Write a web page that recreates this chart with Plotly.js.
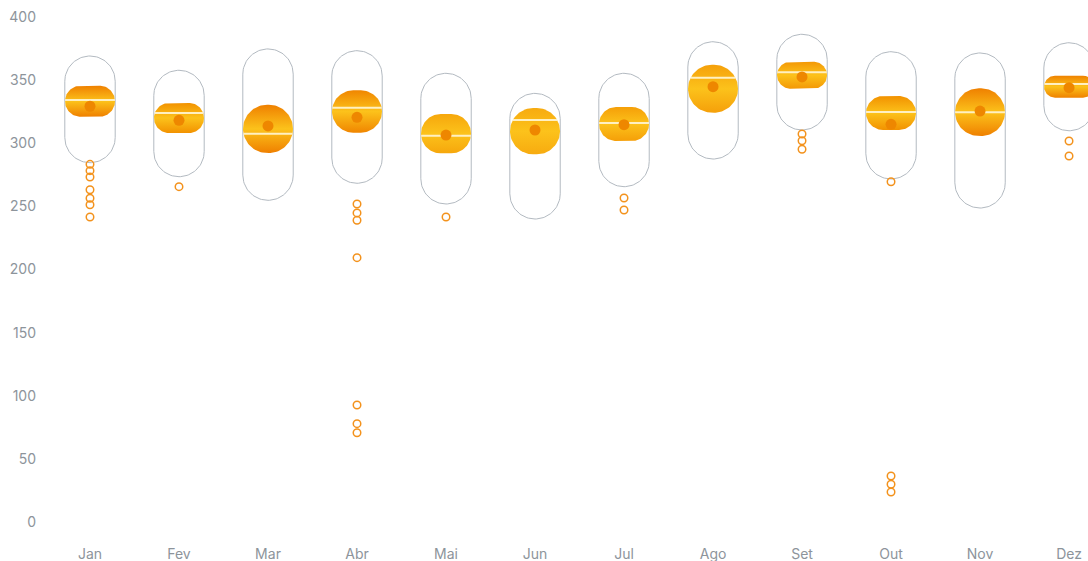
<!DOCTYPE html>
<html>
<head>
<meta charset="utf-8">
<script src="https://cdn.plot.ly/plotly-3.0.1.min.js"></script>
<style>
  html, body { margin: 0; padding: 0; background: #ffffff; }
  #chart { width: 1088px; height: 561px; }
</style>
</head>
<body>
<div id="chart"></div>
<script>
// ---------- data ----------
const months      = ['Jan','Fev','Mar','Abr','Mai','Jun','Jul','Ago','Set','Out','Nov','Dez'];
const lowWhisker  = [284.6, 273.5, 254.8, 268.3, 251.9, 240.0, 265.6, 287.5, 310.5, 271.7, 248.7, 309.9];
const q1          = [321.0, 308.1, 292.3, 308.4, 292.0, 291.2, 301.8, 324.2, 343.2, 310.5, 305.7, 336.1];
const median      = [334.3, 324.0, 307.6, 328.2, 306.0, 318.4, 316.0, 351.9, 356.2, 324.8, 324.5, 346.9];
const q3          = [345.6, 331.9, 330.5, 341.9, 323.2, 327.9, 328.7, 362.2, 364.6, 337.4, 343.5, 353.5];
const highWhisker = [369.1, 357.8, 374.7, 373.3, 355.4, 339.5, 355.4, 380.4, 386.3, 372.5, 371.5, 379.6];
const mean        = [329.3, 318.2, 313.7, 320.5, 306.5, 310.5, 314.7, 344.8, 352.5, 315.0, 325.5, 344.0];
const outliers    = [
  [283.3, 278.3, 273.3, 263.2, 256.4, 251.3, 241.6], // Jan
  [265.6],                                           // Fev
  [],                                                // Mar
  [251.9, 244.8, 239.0, 209.4, 92.7, 77.9, 70.7],    // Abr
  [241.6],                                           // Mai
  [],                                                // Jun
  [256.6, 247.1],                                    // Jul
  [],                                                // Ago
  [307.3, 302.0, 295.2],                             // Set
  [269.5, 36.4, 29.9, 23.8],                         // Out
  [],                                                // Nov
  [301.8, 289.9]                                     // Dez
];
const yTickVals = [0, 50, 100, 150, 200, 250, 300, 350, 400];

// ---------- style ----------
const W = 1088, H = 561;
const margin = {l: 45, r: 0, t: 10, b: 21};
const xRange = [-0.5056, 11.213];
const yRange = [-14.26, 405.54];
const pxPerX = (W - margin.l - margin.r) / (xRange[1] - xRange[0]);
const pxPerY = (H - margin.t - margin.b) / (yRange[1] - yRange[0]);
const PILL_W = 50.4, BOX_W = 50;
const boxEdge = ['#ef8000','#f29200','#ef8000','#f08600','#f6a70c','#f7ab10','#f59f08','#f5a00a','#f39806','#f29200','#ef8000','#ef8200'];
const boxMid = '#fcc21b';
const fontFam = 'Inter, "Open Sans", sans-serif';

function roundedRect(cx, yLo, yHi, wPx, rMax) {
  const hPx = (yHi - yLo) * pxPerY;
  const hw = wPx / 2;
  const r = Math.min(rMax, hw, hPx / 2);
  const centers = [
    [hw - r, hPx - r, 0], [-(hw - r), hPx - r, 90],
    [-(hw - r), r, 180], [hw - r, r, 270]
  ];
  const xs = [], ys = [];
  const N = 24;
  centers.forEach(([ccx, ccy, a0]) => {
    for (let i = 0; i <= N; i++) {
      const a = (a0 + 90 * i / N) * Math.PI / 180;
      xs.push(cx + (ccx + r * Math.cos(a)) / pxPerX);
      ys.push(yLo + (ccy + r * Math.sin(a)) / pxPerY);
    }
  });
  xs.push(xs[0]); ys.push(ys[0]);
  return {xs, ys, r, hPx};
}

function halfWidthAt(yLo, yHi, wPx, yVal) {
  const hPx = (yHi - yLo) * pxPerY;
  const hw = wPx / 2;
  const r = Math.min(hw, hPx / 2);
  const py = (yVal - yLo) * pxPerY;
  let dy = 0;
  if (py < r) dy = r - py; else if (py > hPx - r) dy = py - (hPx - r);
  dy = Math.min(dy, r);
  return (hw - r) + Math.sqrt(Math.max(0, r * r - dy * dy));
}

const traces = [];

// outer whisker pills
const pillX = [], pillY = [];
months.forEach((m, i) => {
  const p = roundedRect(i, lowWhisker[i], highWhisker[i], PILL_W, 1000);
  pillX.push(...p.xs, null); pillY.push(...p.ys, null);
});
traces.push({
  x: pillX, y: pillY, mode: 'lines', type: 'scatter',
  line: {color: '#b3bac1', width: 1}, hoverinfo: 'skip', showlegend: false
});

// boxes with gradient
months.forEach((m, i) => {
  const p = roundedRect(i, q1[i], q3[i], BOX_W, 1000);
  traces.push({
    x: p.xs, y: p.ys, mode: 'lines', type: 'scatter', fill: 'toself',
    line: {width: 0, color: 'rgba(0,0,0,0)'},
    fillgradient: {type: 'vertical', colorscale: [[0, boxEdge[i]], [0.5, boxMid], [1, boxEdge[i]]]},
    hoverinfo: 'skip', showlegend: false
  });
});

// median lines
const medX = [], medY = [];
months.forEach((m, i) => {
  const hw = halfWidthAt(q1[i], q3[i], BOX_W, median[i]) / pxPerX;
  medX.push(i - hw, i + hw, null); medY.push(median[i], median[i], null);
});
traces.push({
  x: medX, y: medY, mode: 'lines', type: 'scatter',
  line: {color: '#fff0c2', width: 2}, hoverinfo: 'skip', showlegend: false
});

// mean dots
traces.push({
  x: months.map((m, i) => i), y: mean, mode: 'markers', type: 'scatter',
  marker: {color: '#ee8700', size: 11, line: {width: 0}},
  hoverinfo: 'skip', showlegend: false
});

// outliers
const oX = [], oY = [];
outliers.forEach((arr, i) => arr.forEach(v => { oX.push(i); oY.push(v); }));
traces.push({
  x: oX, y: oY, mode: 'markers', type: 'scatter',
  marker: {symbol: 'circle-open', color: '#f3921c', size: 7.5, line: {width: 1.5, color: '#f3921c'}},
  hoverinfo: 'skip', showlegend: false
});

const layout = {
  width: W, height: H, margin: margin,
  paper_bgcolor: '#ffffff', plot_bgcolor: '#ffffff',
  showlegend: false,
  font: {family: fontFam, size: 14, color: '#8d949b'},
  xaxis: {
    range: xRange, tickmode: 'array', tickvals: months.map((m, i) => i), ticktext: months,
    showgrid: false, zeroline: false, showline: false, ticks: '', fixedrange: true,
    tickfont: {family: fontFam, size: 14, color: '#8d949b'}, ticklabelstandoff: 4
  },
  yaxis: {
    range: yRange, tickmode: 'array', tickvals: yTickVals,
    showgrid: false, zeroline: false, showline: false, ticks: '', fixedrange: true,
    tickfont: {family: fontFam, size: 14, color: '#8d949b'}, ticklabelstandoff: 8
  }
};

Plotly.newPlot('chart', traces, layout, {displayModeBar: false, staticPlot: true});
</script>
</body>
</html>
